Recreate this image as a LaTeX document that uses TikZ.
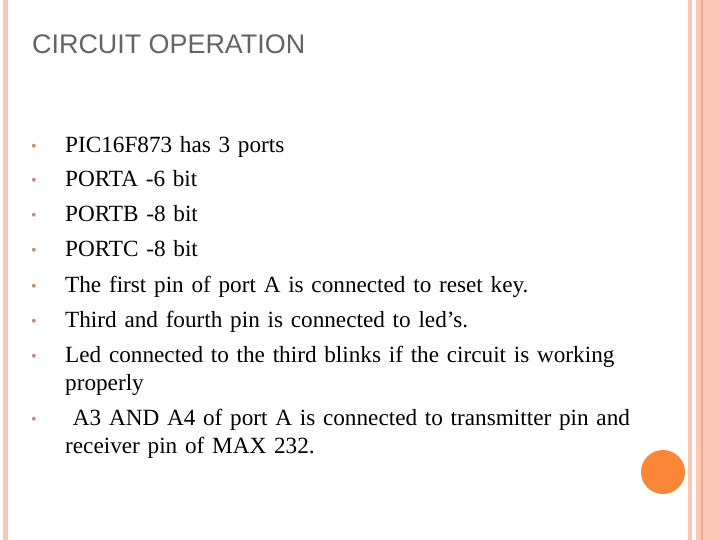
\documentclass[tikz,border=0pt]{standalone}
\usepackage{fontspec}
\setmainfont{Liberation Serif}
\newfontfamily\arialf{Liberation Sans}
\begin{document}
\begin{tikzpicture}[x=1bp,y=-1bp,
  item/.style={anchor=base west,inner sep=0,font=\fontsize{23.3}{29}\selectfont,text width=600bp,align=left},
  bul/.style={anchor=base,inner sep=0,font=\fontsize{16}{16}\selectfont,text={rgb,255:red,190;green,140;blue,110}}]
\useasboundingbox (0,0) rectangle (720,540);
\definecolor{pk}{RGB}{250,200,180}
\definecolor{pkd}{RGB}{240,170,150}
\fill[pk] (3,0) rectangle (8,540);
\fill[pk] (688,0) rectangle (692,540);
\fill[pk] (696,0) rectangle (720,540);
\fill[pkd] (701,0) rectangle (703,540);
\fill[fill={rgb,255:red,250;green,135;blue,55}] (663,472) circle (22);
\node[anchor=base west,inner sep=0,text={rgb,255:red,100;green,100;blue,100},font=\arialf\fontsize{27}{30}\selectfont] (t) at (32,54) {CIRCUIT OPERATION};
\foreach \y/\n in {153/1,187/2,222/3,257/4,292/5,327/6,362/7,425/8}{\node[bul] (b\n) at (34,\y-1) {\textbullet};}
\node[item] (i1) at (65,153) {PIC16F873 has 3 ports};
\node[item] (i2) at (65,187) {PORTA -6 bit};
\node[item] (i3) at (65,222) {PORTB -8 bit};
\node[item] (i4) at (65,257) {PORTC -8 bit};
\node[item] (i5) at (65,292) {The first pin of port A is connected to reset key.};
\node[item] (i6) at (65,327) {Third and fourth pin is connected to led’s.};
\node[item] (i7) at (65,362) {Led connected to the third blinks if the circuit is working\\properly};
\node[item] (i8) at (65,425) {\ A3 AND A4 of port A is connected to transmitter pin and\\receiver pin of MAX 232.};
\end{tikzpicture}
\end{document}
